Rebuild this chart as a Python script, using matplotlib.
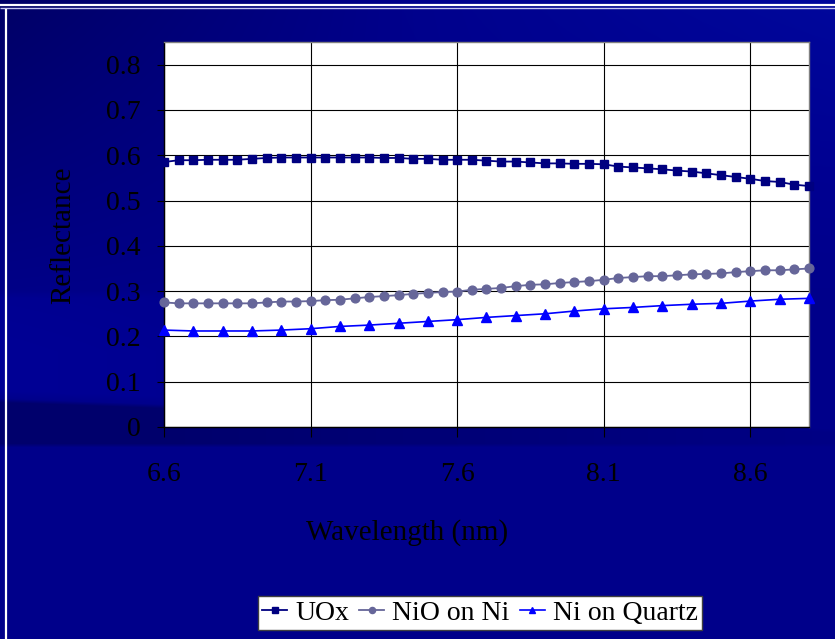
import numpy as np
import matplotlib
matplotlib.use("Agg")
import matplotlib.pyplot as plt

# ---- data -------------------------------------------------------------
wl_fine = [round(6.60 + 0.05 * i, 2) for i in range(45)]
wl_coarse = [round(6.6 + 0.1 * i, 1) for i in range(23)]

uox = [0.585, 0.589, 0.589, 0.590, 0.590, 0.590, 0.592, 0.594, 0.595, 0.595,
       0.595, 0.595, 0.595, 0.595, 0.595, 0.594, 0.594, 0.592, 0.592, 0.590,
       0.590, 0.590, 0.588, 0.586, 0.586, 0.584, 0.582, 0.582, 0.581, 0.581,
       0.580, 0.575, 0.573, 0.571, 0.569, 0.566, 0.564, 0.560, 0.556, 0.552,
       0.548, 0.543, 0.541, 0.535, 0.532]

nio_on_ni = [0.275, 0.273, 0.273, 0.273, 0.273, 0.273, 0.273, 0.275, 0.277, 0.277,
             0.278, 0.280, 0.281, 0.284, 0.287, 0.289, 0.291, 0.294, 0.296, 0.298,
             0.299, 0.303, 0.305, 0.307, 0.311, 0.314, 0.315, 0.318, 0.320, 0.322,
             0.325, 0.329, 0.331, 0.333, 0.333, 0.335, 0.337, 0.338, 0.339, 0.342,
             0.344, 0.346, 0.346, 0.348, 0.350]

ni_on_quartz = [0.214, 0.212, 0.212, 0.212, 0.214, 0.217, 0.222, 0.225, 0.229, 0.233,
                0.237, 0.242, 0.246, 0.250, 0.256, 0.261, 0.264, 0.268, 0.271, 0.273,
                0.278, 0.282, 0.284]

series_names = ["UOx", "NiO on Ni", "Ni on Quartz"]
x_ticks = [6.6, 7.1, 7.6, 8.1, 8.6]
x_tick_labels = ["6.6", "7.1", "7.6", "8.1", "8.6"]
y_ticks = [0, 0.1, 0.2, 0.3, 0.4, 0.5, 0.6, 0.7, 0.8]
y_tick_labels = ["0", "0.1", "0.2", "0.3", "0.4", "0.5", "0.6", "0.7", "0.8"]

# ---- figure -----------------------------------------------------------
W, H = 835, 639
plt.rcParams["font.family"] = ["Liberation Serif", "DejaVu Serif"]
fig = plt.figure(figsize=(W / 100, H / 100), dpi=100)

# slide-style blue background
bg = fig.add_axes([0, 0, 1, 1], zorder=0)
bg.set_axis_off()
yy, xx = np.mgrid[0:H, 0:W]
u = xx / W
v = yy / H
b = np.full((H, W), 0.545)
b += 0.12 * (u - 0.45) * np.clip(1 - v / 0.45, 0, 1)
b -= 0.09 * np.clip(1 - u / 0.5, 0, 1) * np.clip(1 - v / 0.55, 0, 1)
yc = 398 + 30 * u
band = np.clip((yy - yc) / 4, 0, 1) * np.clip((447 - yy) / 4, 0, 1)
b -= 0.12 * band * np.clip(1.2 - u, 0, 1)
lift = np.clip((yy - 290) / 8, 0, 1) * np.clip((yc - yy) / 8, 0, 1)
b += 0.04 * lift * np.clip(1 - u / 0.6, 0, 1)
g = np.clip(0.05 * (u - 0.4) * np.clip(1 - v / 0.3, 0, 1), 0, 1)
rgb = np.dstack([np.zeros_like(b), g, np.clip(b, 0, 1)])
bg.imshow(rgb, extent=(0, W, H, 0), aspect="auto", interpolation="bilinear")
bg.set_xlim(0, W)
bg.set_ylim(H, 0)
bg.plot([0, W], [4.5, 4.5], color="white", lw=1.6, solid_capstyle="butt")
bg.plot([0, W], [8.0, 8.0], color="#c8c8f0", lw=1.0, solid_capstyle="butt")
bg.plot([6, 6], [9, H], color="white", lw=1.6, solid_capstyle="butt")

# ---- chart ------------------------------------------------------------
ax = fig.add_axes([164 / W, 1 - 427 / H, (809 - 164) / W, (427 - 42) / H], zorder=2)
ax.set_facecolor("white")

ax.plot(wl_fine, uox, color="#000080", lw=1.3, marker="s", ms=6,
        markeredgecolor="#000080", markerfacecolor="#000080",
        label=series_names[0], clip_on=False, zorder=4)
ax.plot(wl_fine, nio_on_ni, color="#666699", lw=1.3, marker="o", ms=6.3,
        markeredgecolor="#666699", markerfacecolor="#666699",
        label=series_names[1], clip_on=False, zorder=4)
ax.plot(wl_coarse, ni_on_quartz, color="#0000ff", lw=1.2, marker="^", ms=7,
        markeredgecolor="#0000ff", markerfacecolor="#0000ff",
        label=series_names[2], clip_on=False, zorder=4)

ax.set_xlim(6.6, 8.8)
ax.set_ylim(0, 0.85)
ax.set_xticks(x_ticks)
ax.set_xticklabels(x_tick_labels)
ax.set_yticks(y_ticks)
ax.set_yticklabels(y_tick_labels)
ax.grid(True, color="black", lw=0.8, zorder=1)
ax.set_axisbelow(True)

ax.tick_params(axis="x", direction="out", length=7, width=0.8, pad=18,
               labelsize=20, colors="black")
ax.tick_params(axis="y", direction="out", length=5, width=0.8, pad=12,
               labelsize=20, colors="black")
for side in ("left", "bottom"):
    ax.spines[side].set_color("black")
    ax.spines[side].set_linewidth(1.0)
for side in ("top", "right"):
    ax.spines[side].set_color("#808080")
    ax.spines[side].set_linewidth(1.0)

fig.text(407 / W, 1 - 533 / H, "Wavelength (nm)", ha="center", va="center",
         fontsize=21, color="black")
fig.text(63 / W, 1 - 235 / H, "Reflectance", ha="center", va="center",
         rotation=90, fontsize=21, color="black")

leg = fig.legend(loc="center", bbox_to_anchor=(480 / W, 1 - 613 / H), ncol=3,
                 fontsize=20, frameon=True, fancybox=False, framealpha=1,
                 edgecolor="#404040", facecolor="white", handlelength=0.9,
                 handletextpad=0.3, columnspacing=0.35, borderpad=0.15,
                 borderaxespad=0, markerscale=0.7)
leg.get_frame().set_linewidth(1.0)
leg.set_zorder(5)

fig.savefig("out.png", dpi=100)
